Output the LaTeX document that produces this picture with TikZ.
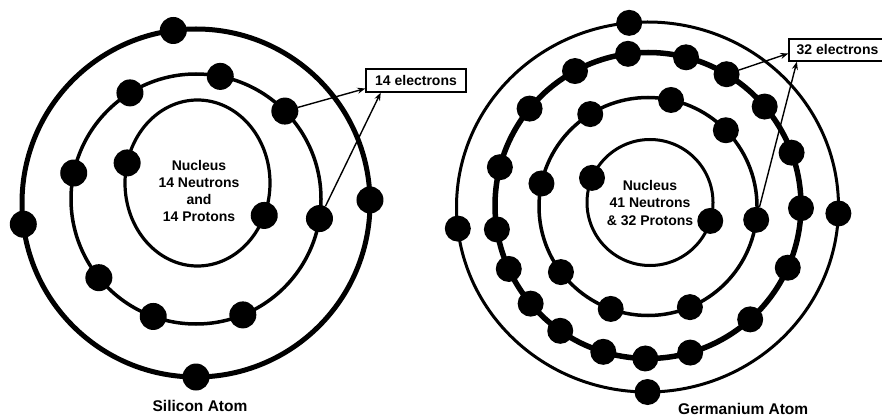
\documentclass[tikz,border=0pt]{standalone}
\usepackage{fontspec}
\setmainfont{Liberation Sans}
\usetikzlibrary{arrows.meta, positioning, calc}
\tikzset{
  electron/.style={circle, fill=black, inner sep=0pt, minimum size=#1},
  electron/.default=27pt,
  orbit/.style={draw=black, line width=#1},
  orbit/.default=3.5pt,
  countbox/.style={rectangle, draw=black, line width=1.3pt, inner sep=0pt,
                   minimum height=23pt, font=\fontsize{14}{17}\selectfont\bfseries},
  arr/.style={-{Stealth[length=8pt, width=6pt]}, line width=1.4pt},
  nucleus/.style={align=center, font=\fontsize{14}{17.3}\selectfont\bfseries},
  caption/.style={inner sep=0pt, font=\fontsize{15.5}{18}\selectfont\bfseries},
}
\begin{document}
\begin{tikzpicture}[x=1pt, y=1pt]
  \useasboundingbox (0,0) rectangle (882,418);
  % silicon
  \coordinate (siout) at (196,215);
  \coordinate (simid) at (196,219);
  \coordinate (siin) at (197.5,235);
  \draw[orbit=5pt] (siout) circle[radius=174];
  \draw[orbit=3.5pt] (simid) circle[radius=125];
  \draw[orbit=3.2pt] (siin) ellipse[x radius=72.5, y radius=83];
  \foreach \a [count=\i] in {97.5,1,187,270}
    \node[electron] (siouter\i) at ([shift={(\a:174)}]siout) {};
  \foreach \a [count=\i] in {78.8,121.9,44.7,168,351,219,250,292}
    \node[electron] (simid\i) at ([shift={(\a:125)}]simid) {};
  \foreach \a [count=\i] in {166,-23}
    \node[electron] (siin\i) at ([shift={(\a:72.5 and 83)}]siin) {};
  \node[nucleus] (sinuc) at (199,227) {Nucleus\\14 Neutrons\\and\\14 Protons};
  \node[countbox, minimum width=100pt] (si14) at (416,337.5) {14 electrons};
  \draw[arr] (simid3) -- (si14.189);
  \draw[arr] (simid5) -- (si14.199);
  \node[caption] (sicap) at (200,12) {Silicon Atom};
  % germanium
  \coordinate (geout) at (647.5,211);
  \coordinate (gethree) at (648,212.5);
  \coordinate (gemid) at (648,211.5);
  \coordinate (gein) at (650,215.5);
  \draw[orbit=3pt] (geout) ellipse[x radius=191, y radius=185];
  \draw[orbit=5.5pt] (gethree) circle[radius=153];
  \draw[orbit=3.5pt] (gemid) circle[radius=109];
  \draw[orbit=3pt] (gein) circle[radius=63];
  \foreach \a [count=\i] in {95.5,-2,186.7,270}
    \node[electron=26pt] (geouter\i) at ([shift={(\a:191 and 185)}]geout) {};
  \foreach \a [count=\i] in {97.5,75.6,118.5,59.1,140.7,40.3,20.2,165.5,359,
                             189,336,204.5,219.9,311.9,235,253,269,286}
    \node[electron=26pt] (gethree\i) at ([shift={(\a:153)}]gethree) {};
  \foreach \a [count=\i] in {77.8,122,44.4,167.8,353,217,250,292.6}
    \node[electron=26pt] (gemid\i) at ([shift={(\a:109)}]gemid) {};
  \foreach \a [count=\i] in {157,343}
    \node[electron=26pt] (gein\i) at ([shift={(\a:63)}]gein) {};
  \node[nucleus] (genuc) at (650,215) {Nucleus\\41 Neutrons\\\& 32 Protons};
  \node[countbox, minimum width=97pt, minimum height=22pt] (ge32) at (837.5,368) {32 electrons};
  \draw[arr] (gethree4) -- (ge32.184);
  \draw[arr] (gemid5) -- (ge32.196);
  \node[caption, anchor=base west] (gecap) at (678,4) {Germanium Atom};
\end{tikzpicture}
\end{document}
